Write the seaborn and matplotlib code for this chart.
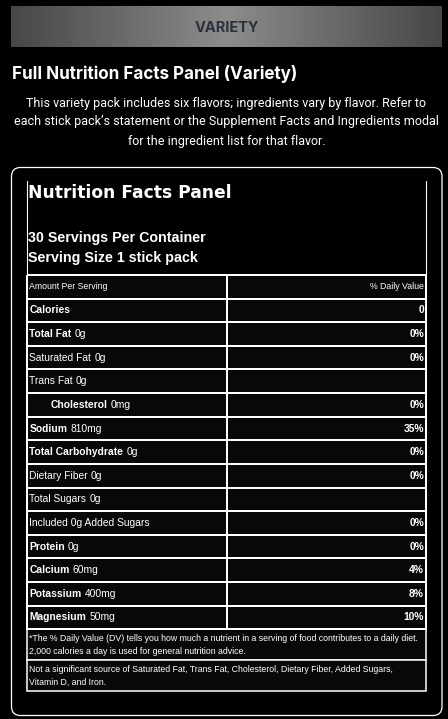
import numpy as np
import matplotlib
matplotlib.use("Agg")
import matplotlib.pyplot as plt
from matplotlib.colors import ListedColormap, LinearSegmentedColormap
from matplotlib.patches import FancyBboxPatch, Rectangle
import seaborn as sns

# panel content
banner_label = "VARIETY"
section_title = "Full Nutrition Facts Panel (Variety)"
intro_lines = [
    "This variety pack includes six flavors; ingredients vary by flavor. Refer to",
    "each stick pack\u2019s statement or the Supplement Facts and Ingredients modal",
    "for the ingredient list for that flavor.",
]
panel_title = "Nutrition Facts Panel"
servings = "30 Servings Per Container"
serving_size = "Serving Size 1 stick pack"
header_left = "Amount Per Serving"
header_right = "% Daily Value"

nutrients = ["Calories", "Total Fat", "Saturated Fat", "Trans Fat", "Cholesterol",
             "Sodium", "Total Carbohydrate", "Dietary Fiber", "Total Sugars",
             "Included 0g Added Sugars", "Protein", "Calcium", "Potassium", "Magnesium"]
amounts = ["", "0g", "0g", "0g", "0mg", "810mg", "0g", "0g", "0g", "", "0g",
           "60mg", "400mg", "50mg"]
daily_values = ["0", "0%", "0%", "", "0%", "35%", "0%", "0%", "", "0%", "0%",
                "4%", "8%", "10%"]
is_bold = [True, True, False, False, True, True, True, False, False, False,
           True, True, True, True]
is_indented = [False, False, False, False, True, False, False, False, False,
               False, False, False, False, False]

footnotes = [
    "*The % Daily Value (DV) tells you how much a nutrient in a serving of food contributes to a daily diet.\n"
    "2,000 calories a day is used for general nutrition advice.",
    "Not a significant source of Saturated Fat, Trans Fat, Cholesterol, Dietary Fiber, Added Sugars,\n"
    "Vitamin D, and Iron.",
]

sns.set_theme(style="white")
plt.rcParams["font.family"] = ["Liberation Sans", "DejaVu Sans"]

W, H = 448, 719
fig = plt.figure(figsize=(W / 100, H / 100), dpi=100, facecolor="black")

# background axes in pixel units
bg = fig.add_axes([0, 0, 1, 1])
bg.set_xlim(0, W)
bg.set_ylim(H, 0)
bg.set_facecolor("black")
bg.axis("off")

# gray gradient banner
grad = LinearSegmentedColormap.from_list("banner", ["#474747", "#8c8c8c", "#474747"])
bg.imshow(np.linspace(0, 1, 256)[None, :], cmap=grad, aspect="auto",
          extent=(11, 442, 47.5, 7), zorder=1)
bg.text(226.5, 28, banner_label, color="#2b313c", fontsize=10.5, fontweight="bold",
        family="Inter", ha="center", va="center", zorder=2)

bg.text(12, 74, section_title, color="white", fontsize=12.3, fontweight="bold",
        family="Inter", ha="left", va="center")
for k, line in enumerate(intro_lines):
    bg.text(226.5, 103 + k * 19, line, color="white", fontsize=9,
            family="Roboto", ha="center", va="center")

# rounded card
card = FancyBboxPatch((11.5, 167.5), 430.5, 548, boxstyle="round,pad=0,rounding_size=9",
                      facecolor="black", edgecolor="white", linewidth=0.9, zorder=1)
bg.add_patch(card)

# inner panel side rules above the table
bg.plot([26.7, 26.7], [181, 276], color="white", lw=0.8, zorder=2)
bg.plot([426.3, 426.3], [181, 276], color="white", lw=0.8, zorder=2)

bg.text(28, 193, panel_title, color="white", fontsize=12.3, fontweight="bold",
        family="DejaVu Sans", ha="left", va="center", zorder=3)
bg.text(28, 238, servings, color="white", fontsize=10.3, fontweight="bold",
        ha="left", va="center", zorder=3)
bg.text(28, 258, serving_size, color="white", fontsize=10.3, fontweight="bold",
        ha="left", va="center", zorder=3)

# footnote boxes
foot_top = 629.3
foot_h = 31
for k, note in enumerate(footnotes):
    y0 = foot_top + k * foot_h
    bg.add_patch(Rectangle((26.7, y0), 399.6, foot_h, facecolor="#080808",
                           edgecolor="white", linewidth=1.1, zorder=2))
    bg.text(29, y0 + 15.5, note, color="white", fontsize=6.3, ha="left",
            va="center", linespacing=1.5, zorder=3)

# nutrition table as a seaborn heatmap grid
n_rows = len(nutrients) + 1
tab_left, tab_right, tab_top = 26.7, 426.3, 275.0
tab_bottom = foot_top
tab = fig.add_axes([tab_left / W, 1 - tab_bottom / H,
                    (tab_right - tab_left) / W, (tab_bottom - tab_top) / H])
sns.heatmap(np.zeros((n_rows, 2)), ax=tab, cmap=ListedColormap(["#080808"]),
            cbar=False, linewidths=1.1, linecolor="white",
            xticklabels=False, yticklabels=False)
tab.collections[0].set_clip_on(False)
tab.set_facecolor("none")

pad_l, pad_r = 0.013, 0.012
tab.text(pad_l, 0.5, header_left, color="white", fontsize=6.3, ha="left", va="center")
tab.text(2 - pad_r, 0.5, header_right, color="white", fontsize=6.3, ha="right", va="center")

for i, name in enumerate(nutrients):
    yc = i + 1.5
    x0 = pad_l + (0.105 if is_indented[i] else 0)
    t = tab.text(x0, yc, name, color="white", fontsize=7.4,
                 fontweight="bold" if is_bold[i] else "normal", ha="left", va="center")
    if amounts[i]:
        tab.annotate(amounts[i], xy=(1, 0), xycoords=t, xytext=(2.2, 0),
                     textcoords="offset points", color="white", fontsize=7.4,
                     ha="left", va="bottom")
    if daily_values[i]:
        tab.text(2 - pad_r, yc, daily_values[i], color="white", fontsize=7.4,
                 fontweight="bold", ha="right", va="center")

fig.savefig("out.png", dpi=100, facecolor="black")
